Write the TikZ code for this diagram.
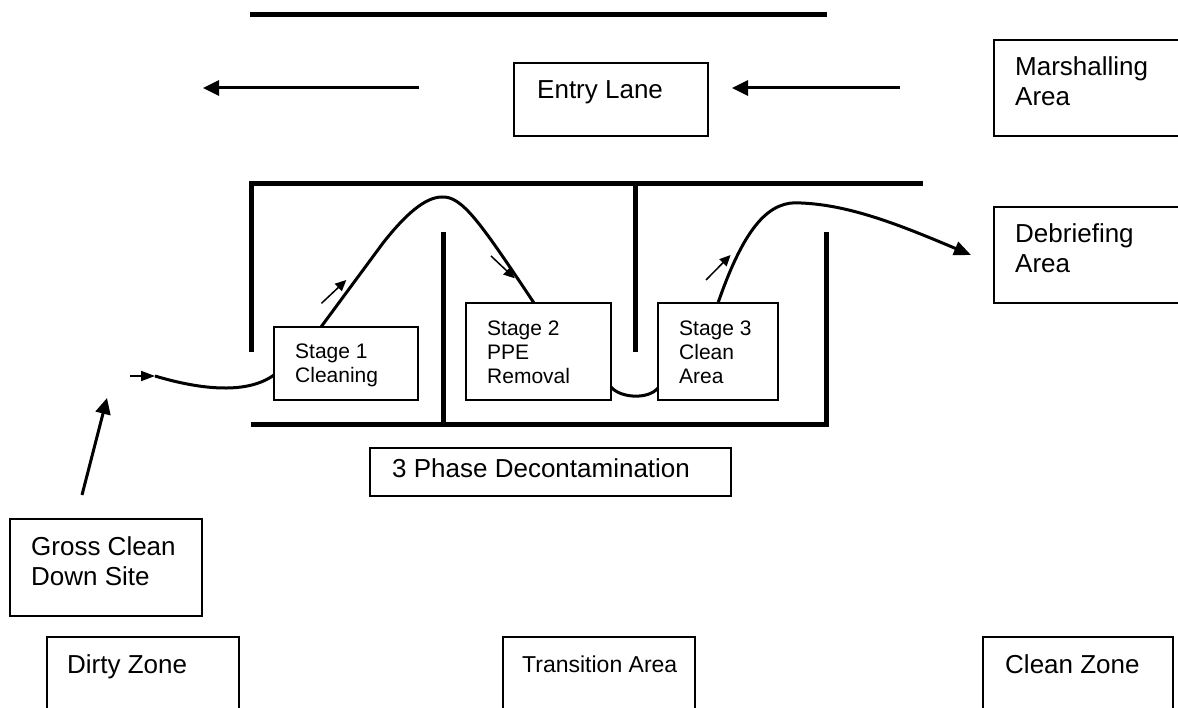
\documentclass[tikz,border=0pt]{standalone}
\usepackage{fontspec}
\setmainfont{Liberation Sans}
\usetikzlibrary{arrows.meta}
\tikzset{
  wall/.style={line width=5pt, line cap=butt},
  box/.style={draw, line width=1.5pt, inner sep=0pt, outer sep=0pt, anchor=north west},
  txt/.style={inner sep=0pt, align=left, font=\fontsize{26}{30}\selectfont},
  stxt/.style={inner sep=0pt, align=left, anchor=north west, font=\fontsize{21}{24}\selectfont},
  path/.style={line width=3pt},
  bigarrow/.style={line width=3pt, -{Triangle[length=16pt,width=15pt]}},
  smallarrow/.style={line width=1.5pt, -{Triangle[length=11pt,width=10pt]}}
}
\begin{document}
\begin{tikzpicture}[x=1pt,y=-1pt]
\useasboundingbox (0,0) rectangle (1178,708);
\clip (0,0) rectangle (1178,708);
% walls
\draw[wall] (250,15) -- (827,15);
\draw[wall] (251,352) -- (251,184) -- (923,184);
\draw[wall] (443,232) -- (443,424);
\draw[wall] (635,184) -- (635,352);
\draw[wall] (251,424) -- (826,424) -- (826,232);
% boxes
\node[box, minimum width=194pt, minimum height=73pt] (entry) at (514,63) {};
\node[box, minimum width=200pt, minimum height=96pt] (marsh) at (994,40) {};
\node[box, minimum width=200pt, minimum height=96pt] (debrief) at (994,207) {};
\node[box, minimum width=144pt, minimum height=73pt] (s1) at (274,327) {};
\node[box, minimum width=145pt, minimum height=97pt] (s2) at (466,303) {};
\node[box, minimum width=120pt, minimum height=97pt] (s3) at (658,303) {};
\node[box, minimum width=361pt, minimum height=48pt] (phase) at (370,448) {};
\node[box, minimum width=192pt, minimum height=97pt] (gross) at (10,519) {};
\node[box, minimum width=192pt, minimum height=90pt] (dirty) at (47,637) {};
\node[box, minimum width=192pt, minimum height=90pt] (trans) at (503,637) {};
\node[box, minimum width=190pt, minimum height=90pt] (clean) at (983,637) {};
% texts
\node[txt, anchor=base west] (entryT) at (537,99) {Entry Lane};
\node[txt, anchor=north west] (marshT) at (1015,54) {\strut Marshalling\\Area};
\node[txt, anchor=north west] (debriefT) at (1015,221) {\strut Debriefing\\Area};
\node[stxt] (s1T) at (295,341.2) {\strut Stage 1\\Cleaning};
\node[stxt] (s2T) at (487,318.2) {\strut Stage 2\\PPE\\Removal};
\node[stxt] (s3T) at (679,318.2) {\strut Stage 3\\Clean\\Area};
\node[txt, anchor=base west] (phaseT) at (392,477) {3 Phase Decontamination};
\node[txt, anchor=north west] (grossT) at (31,534) {\strut Gross Clean\\Down Site};
\node[txt, anchor=base west] (dirtyT) at (67,673) {Dirty Zone};
\node[txt, anchor=base west, font=\fontsize{23}{27}\selectfont] (transT) at (522,672) {Transition Area};
\node[txt, anchor=base west] (cleanT) at (1005,673) {Clean Zone};
% free arrow ends
\coordinate (la0) at (419,88);
\coordinate (la1) at (203,88);
\coordinate (ra0) at (900,88);
\coordinate (ra1) at (732,88);
\coordinate (ga0) at (82,495);
\coordinate (ga1) at (107,398);
\coordinate (ea0) at (130,376);
\coordinate (ea1) at (155,376);
\coordinate (peak1) at (442,197);
\coordinate (rise1) at (383,243);
\coordinate (peak3) at (801,203);
\coordinate (dtip) at (971,255);
\coordinate (a1s) at (321.5,303.3);
\coordinate (a1e) at (346.3,280);
\coordinate (a2s) at (491,256);
\coordinate (a2e) at (514.7,278.3);
\coordinate (a3s) at (706,280);
\coordinate (a3e) at (730.6,255);
% arrows
\draw[bigarrow] (la0) -- (la1);
\draw[bigarrow] (ra0) -- (ra1);
\draw[bigarrow] (ga0) -- (ga1);
\draw[line width=2pt, -{Triangle[length=14pt,width=10pt]}] (ea0) -- (ea1);
\draw[smallarrow] (a1s) -- (a1e);
\draw[smallarrow] (a2s) -- (a2e);
\draw[smallarrow] (a3s) -- (a3e);
% route
\draw[path] (ea1) .. controls (195,388) and (245,396) .. ([yshift=-11.5pt]s1.west);
\draw[path] ([xshift=-25pt]s1.north) -- (rise1)
  .. controls (405,215) and (425,197) .. (peak1)
  .. controls (462,196) and (480,222) .. ([xshift=-4.5pt]s2.north);
\draw[path] ([yshift=13pt]s2.south east) .. controls (620,398) and (648,400) .. ([yshift=12pt]s3.south west);
\draw[path, -{Triangle[length=17pt,width=14pt]}] (s3.north)
  .. controls (745,225) and (770,200) .. (peak3)
  .. controls (850,205) and (900,225) .. (dtip);
\end{tikzpicture}
\end{document}
